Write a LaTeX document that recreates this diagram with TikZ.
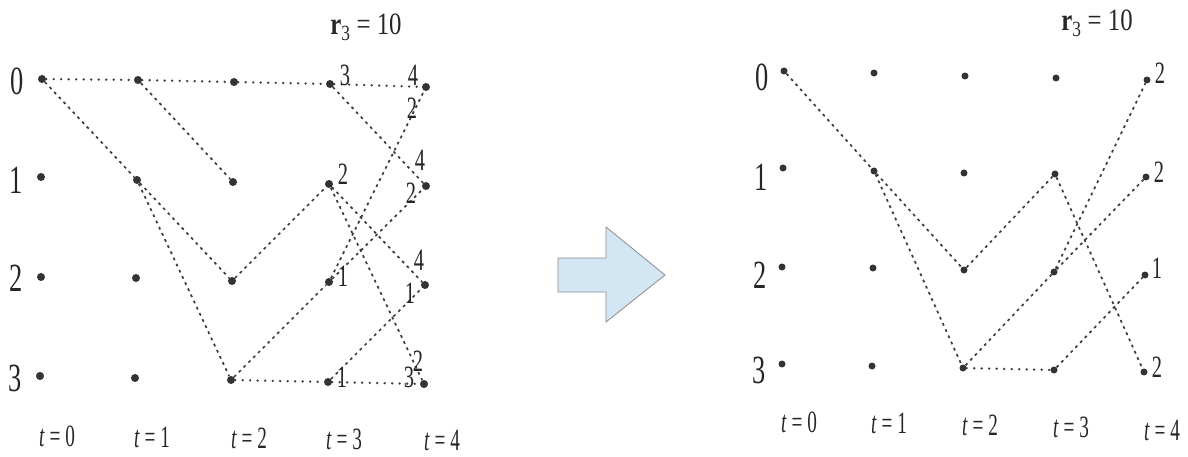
\documentclass[tikz,border=0pt]{standalone}
\usepackage{fontspec}
\setmainfont{Liberation Serif}
\usepackage{graphicx}
\newcommand{\nar}[1]{\scalebox{0.66}[1]{#1}}
\newcommand{\tlab}[1]{\scalebox{0.62}[1]{\textit{t} = #1}}
\definecolor{dotc}{HTML}{333333}
\definecolor{linec}{HTML}{3C3C3C}
\definecolor{txt}{HTML}{262626}
\definecolor{arrfill}{HTML}{D3E6F4}
\definecolor{arrdraw}{HTML}{8C8C8C}
\begin{document}
\begin{tikzpicture}[x=1pt,y=-1pt,
  dot/.style={circle,fill=dotc,inner sep=0pt,minimum size=8pt},
  rdot/.style={circle,fill=dotc,inner sep=0pt,minimum size=7pt},
  lab/.style={inner sep=0pt,text=txt,font=\fontsize{31}{31}\selectfont},
  rowlab/.style={inner sep=0pt,text=txt,font=\fontsize{40}{40}\selectfont},
  dg/.style={draw=linec,line width=1.7pt,dash pattern=on 2.8pt off 4pt},
  hz/.style={draw=linec,line width=2.6pt,line cap=round,dash pattern=on 0pt off 7.5pt}]
\useasboundingbox (0,0) rectangle (1188,457);
% ---------------- left diagram ----------------
\node[dot] (L00) at (42,79) {};
\node[dot] (L10) at (138,80) {};
\node[dot] (L20) at (234,82) {};
\node[dot] (L30) at (330,84) {};
\node[dot] (L40) at (426,87) {};
\node[dot] (L01) at (41,177) {};
\node[dot] (L11) at (137,180) {};
\node[dot] (L21) at (233,182) {};
\node[dot] (L31) at (329,184) {};
\node[dot] (L41) at (426,186) {};
\node[dot] (L02) at (41,277) {};
\node[dot] (L12) at (136,278) {};
\node[dot] (L22) at (232,281) {};
\node[dot] (L32) at (329,282) {};
\node[dot] (L42) at (425,285) {};
\node[dot] (L03) at (40,376) {};
\node[dot] (L13) at (135,378) {};
\node[dot] (L23) at (231,380) {};
\node[dot] (L33) at (328,382) {};
\node[dot] (L43) at (424,384) {};
% horizontal dotted
\draw[hz] (L00) -- (L10);
\draw[hz] (L10) -- (L20);
\draw[hz] (L20) -- (L30);
\draw[hz] (L30) -- (L40);
\draw[hz] (L23) -- (L33);
\draw[hz] (L33) -- (L43);
% diagonals
\draw[dg] (L00) -- (L11);
\draw[dg] (L10) -- (L21);
\draw[dg] (L11) -- (L22);
\draw[dg] (L11) -- (L23);
\draw[dg] (L22) -- (L31);
\draw[dg] (L23) -- (L32);
\draw[dg] (L30) -- (L41);
\draw[dg] (L31) -- (L42);
\draw[dg] (L31) -- (L43);
\draw[dg] (L32) -- (L40);
\draw[dg] (L32) -- (L41);
\draw[dg] (L33) -- (L42);
% row labels
\node[rowlab] (LR0) at (17,81) {\nar{0}};
\node[rowlab] (LR1) at (16,180) {\nar{1}};
\node[rowlab] (LR2) at (16,278) {\nar{2}};
\node[rowlab] (LR3) at (15,378) {\nar{3}};
% time labels
\node[lab] (LT0) at (57,436) {\tlab{0}};
\node[lab] (LT1) at (152,437) {\tlab{1}};
\node[lab] (LT2) at (249,438) {\tlab{2}};
\node[lab] (LT3) at (344,439) {\tlab{3}};
\node[lab] (LT4) at (442,440) {\tlab{4}};
\node[lab] (LRr) at (366,27) {\scalebox{0.8}[1]{\textbf{r}\textsubscript{3} = 10}};
% value labels
\node[lab] (La) at (345,75) {\nar{3}};
\node[lab] (Lb) at (413,75) {\nar{4}};
\node[lab] (Lc) at (412,108) {\nar{2}};
\node[lab] (Ld) at (420,160) {\nar{4}};
\node[lab] (Le) at (411,193) {\nar{2}};
\node[lab] (Lf) at (343,174) {\nar{2}};
\node[lab] (Lg) at (343,276) {\nar{1}};
\node[lab] (Lh) at (419,260) {\nar{4}};
\node[lab] (Li) at (410,293) {\nar{1}};
\node[lab] (Lj) at (342,377) {\nar{1}};
\node[lab] (Lk) at (409,377) {\nar{3}};
\node[lab] (Ll) at (418,361) {\nar{2}};
% ---------------- arrow ----------------
\draw[fill=arrfill,draw=arrdraw,line width=0.8pt]
  (558,258) -- (606,258) -- (606,227) -- (665,275) -- (606,322) -- (606,292) -- (558,292) -- cycle;
% ---------------- right diagram ----------------
\node[rdot] (R00) at (784,71) {};
\node[rdot] (R10) at (874,73) {};
\node[rdot] (R20) at (965,76) {};
\node[rdot] (R30) at (1056,78) {};
\node[rdot] (R40) at (1147,80) {};
\node[rdot] (R01) at (783,168) {};
\node[rdot] (R11) at (874,171) {};
\node[rdot] (R21) at (964,173) {};
\node[rdot] (R31) at (1055,174) {};
\node[rdot] (R41) at (1146,177) {};
\node[rdot] (R02) at (782,267) {};
\node[rdot] (R12) at (873,268) {};
\node[rdot] (R22) at (964,270) {};
\node[rdot] (R32) at (1054,272) {};
\node[rdot] (R42) at (1145,275) {};
\node[rdot] (R03) at (782,364) {};
\node[rdot] (R13) at (872,366) {};
\node[rdot] (R23) at (963,368) {};
\node[rdot] (R33) at (1054,370) {};
\node[rdot] (R43) at (1144,372) {};
\draw[hz] (R23) -- (R33);
\draw[dg] (R00) -- (R11);
\draw[dg] (R11) -- (R22);
\draw[dg] (R11) -- (R23);
\draw[dg] (R22) -- (R31);
\draw[dg] (R23) -- (R32);
\draw[dg] (R32) -- (R40);
\draw[dg] (R32) -- (R41);
\draw[dg] (R31) -- (R43);
\draw[dg] (R33) -- (R42);
\node[rowlab] (RR0) at (762,77) {\nar{0}};
\node[rowlab] (RR1) at (761,177) {\nar{1}};
\node[rowlab] (RR2) at (760,275) {\nar{2}};
\node[rowlab] (RR3) at (759,370) {\nar{3}};
\node[lab] (RT0) at (799,422) {\tlab{0}};
\node[lab] (RT1) at (889,423) {\tlab{1}};
\node[lab] (RT2) at (980,425) {\tlab{2}};
\node[lab] (RT3) at (1071,427) {\tlab{3}};
\node[lab] (RT4) at (1162,430) {\tlab{4}};
\node[lab] (RRr) at (1097,23) {\scalebox{0.8}[1]{\textbf{r}\textsubscript{3} = 10}};
\node[lab] (Ra) at (1160,73) {\nar{2}};
\node[lab] (Rb) at (1159,172) {\nar{2}};
\node[lab] (Rc) at (1157,268) {\nar{1}};
\node[lab] (Rd) at (1157,367) {\nar{2}};
\end{tikzpicture}
\end{document}
